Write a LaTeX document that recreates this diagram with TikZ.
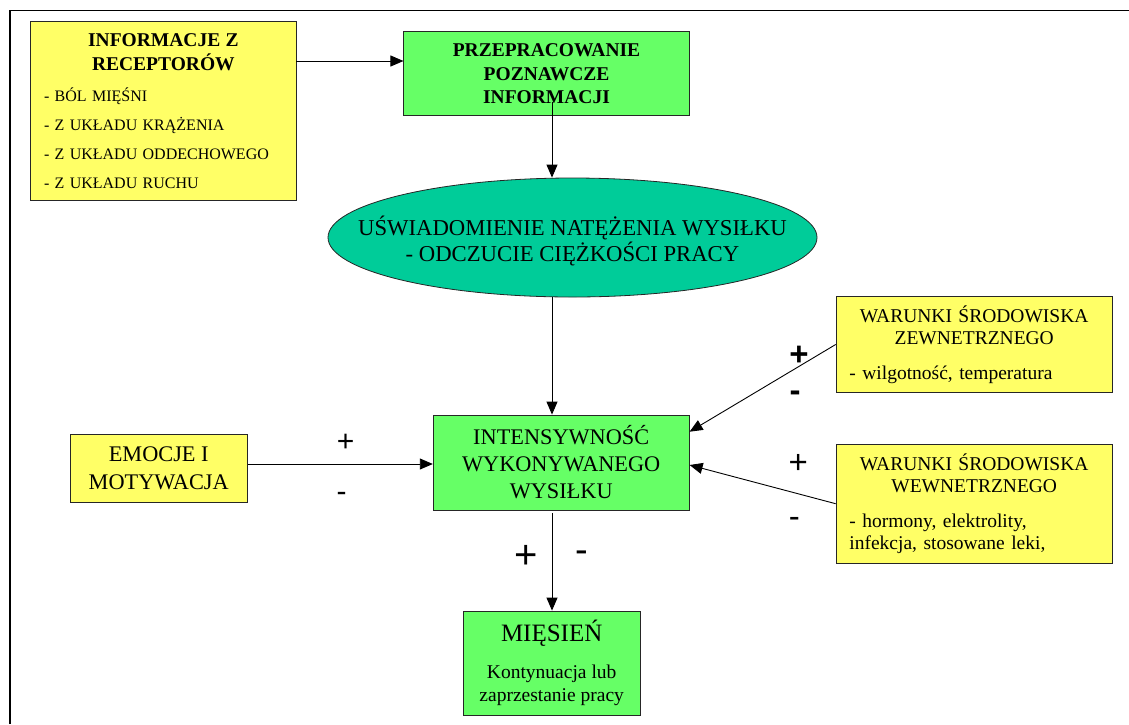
\documentclass[tikz,border=0pt]{standalone}
\usepackage{fontspec}
\setmainfont{Liberation Serif}
\newfontfamily\signfont{Liberation Sans}
\usetikzlibrary{arrows.meta,shapes.geometric,calc}
\definecolor{boxyellow}{HTML}{FFFF66}
\definecolor{boxgreen}{HTML}{66FF66}
\definecolor{ovalteal}{HTML}{00CC99}
\begin{document}
\begin{tikzpicture}[x=1pt,y=-1pt,
  box/.style={draw=black!85, line width=0.8pt, inner sep=0pt, rectangle},
  ybox/.style={box, fill=boxyellow},
  gbox/.style={box, fill=boxgreen},
  arr/.style={line width=0.9pt, -{Triangle[length=13pt,width=11pt]}},
  sign/.style={inner sep=0pt, font=\signfont\fontsize{#1}{#1}\selectfont},
]
\useasboundingbox (0,0) rectangle (1129,724);
\draw[line width=1.6pt] (9.7,724) -- (9.7,10.5) -- (1129,10.5);

\node[ybox, minimum width=265.3pt, minimum height=178.3pt, text width=238.7pt, align=left,
  font=\fontsize{16}{29}\selectfont] (rec) at (163.4,110.9) {%
\makebox[238.7pt][c]{\bfseries\fontsize{19.5}{24}\selectfont INFORMACJE Z}\\[-5pt]
\makebox[238.7pt][c]{\bfseries\fontsize{19.5}{24}\selectfont RECEPTORÓW}\\[2pt]
- BÓL MIĘŚNI\\
- Z UKŁADU KRĄŻENIA\\
- Z UKŁADU ODDECHOWEGO\\
- Z UKŁADU RUCHU};

\node[gbox, minimum width=285.3pt, minimum height=84pt, align=center,
  font=\bfseries\fontsize{19.5}{23.3}\selectfont] (cog) at (546.5,73.7)
  {PRZEPRACOWANIE\\POZNAWCZE\\INFORMACJI};

\node[ellipse, draw=black!85, line width=0.8pt, fill=ovalteal, minimum width=489pt,
  minimum height=119pt, inner sep=0pt] (ell) at (572.5,237.5) {};
\node[align=center, font=\fontsize{22.7}{26.7}\selectfont, inner sep=0pt] (elltxt) at (572.5,241)
  {UŚWIADOMIENIE NATĘŻENIA WYSIŁKU\\- ODCZUCIE CIĘŻKOŚCI PRACY};

\node[gbox, minimum width=256pt, minimum height=95pt, align=center,
  font=\fontsize{22.3}{27}\selectfont] (int) at (561.2,462.5)
  {INTENSYWNOŚĆ\\WYKONYWANEGO\\WYSIŁKU};

\node[ybox, minimum width=177.3pt, minimum height=68.4pt, align=center,
  font=\fontsize{22.3}{27.7}\selectfont] (emo) at (158.7,468.5) {EMOCJE I\\MOTYWACJA};

\node[gbox, minimum width=176.7pt, minimum height=104pt, align=center,
  font=\fontsize{19.5}{23.3}\selectfont] (mus) at (551.7,663)
  {{\fontsize{25}{30}\selectfont MIĘSIEŃ}\\[13.4pt]Kontynuacja lub\\zaprzestanie pracy};

\node[ybox, minimum width=276.3pt, minimum height=95.6pt, text width=249.7pt, align=left,
  font=\fontsize{19.5}{22.4}\selectfont] (ext) at (974.2,344.5)
  {\makebox[249.7pt][c]{WARUNKI ŚRODOWISKA}\\\makebox[249.7pt][c]{ZEWNETRZNEGO}\\[12.6pt]- wilgotność, temperatura};

\node[ybox, minimum width=276.3pt, minimum height=119.3pt, text width=249.7pt, align=left,
  font=\fontsize{19.5}{22.4}\selectfont] (inn) at (974.2,503.7)
  {\makebox[249.7pt][c]{WARUNKI ŚRODOWISKA}\\\makebox[249.7pt][c]{WEWNETRZNEGO}\\[12.6pt]- hormony, elektrolity,\\infekcja, stosowane leki,};

\coordinate (vx) at (552,0);
\coordinate (ya) at (0,61);
\coordinate (ye) at (0,464);
\coordinate (yr1) at (0,431.7);
\coordinate (yr2) at (0,465);

\draw[arr] (rec.east |- ya) -- (cog.west |- ya);
\draw[arr] ($(vx |- cog.south)+(0,-14)$) -- (vx |- ell.north);
\draw[arr] (vx |- ell.south) -- (vx |- int.north);
\draw[arr] (emo.east |- ye) -- (int.west |- ye);
\draw[arr] (ext.west) -- (int.east |- yr1);
\draw[arr] (inn.west) -- (int.east |- yr2);
\draw[arr, shorten <=3pt] (vx |- int.south) -- (vx |- mus.north);

\node[sign=30] (p1) at (345.7,442.7) {+};
\node[sign=30] (m1) at (341.7,496.7) {-};
\node[sign=33] (p2) at (799,356) {\bfseries +};
\node[sign=33] (m2) at (795,396) {\bfseries -};
\node[sign=33] (p3) at (798.3,464) {+};
\node[sign=33] (m3) at (794.3,522.7) {-};
\node[sign=40] (p4) at (526,556.7) {+};
\node[sign=38] (m4) at (582.3,556.7) {-};
\end{tikzpicture}
\end{document}
